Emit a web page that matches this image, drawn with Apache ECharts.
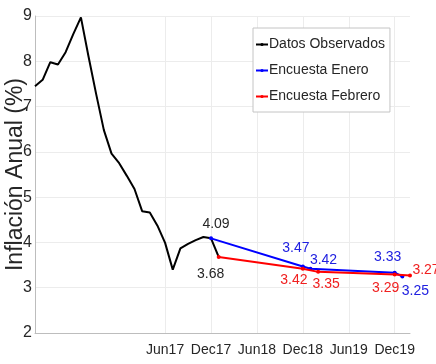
<!DOCTYPE html>
<html>
<head>
<meta charset="utf-8">
<script src="https://cdn.jsdelivr.net/npm/echarts@6/dist/echarts.min.js"></script>
<style>html,body{margin:0;padding:0;background:#fff}#c{width:436px;height:364px}</style>
</head>
<body>
<div id="c"></div>
<script>
// Month categories (Jan16 .. Feb20)
const months = [
  'Jan16','Feb16','Mar16','Apr16','May16','Jun16','Jul16','Aug16','Sep16','Oct16','Nov16','Dec16',
  'Jan17','Feb17','Mar17','Apr17','May17','Jun17','Jul17','Aug17','Sep17','Oct17','Nov17','Dec17',
  'Jan18','Feb18','Mar18','Apr18','May18','Jun18','Jul18','Aug18','Sep18','Oct18','Nov18','Dec18',
  'Jan19','Feb19','Mar19','Apr19','May19','Jun19','Jul19','Aug19','Sep19','Oct19','Nov19','Dec19',
  'Jan20','Feb20'
];
const tickLabels = ['Jun17','Dec17','Jun18','Dec18','Jun19','Dec19'];

// Datos Observados (Jan16 .. Jan18)
const observedX = months.slice(0, 25);
const observedY = [7.45,7.59,7.98,7.93,8.20,8.60,8.97,8.10,7.27,6.48,5.96,5.75,
                   5.47,5.18,4.69,4.66,4.37,3.99,3.40,3.87,3.97,4.05,4.12,4.09,3.68];

// Encuesta Enero
const eneroX = ['Dec17','Dec18','Jan19','Dec19','Jan20'];
const eneroY = [4.09,3.47,3.42,3.33,3.25];

// Encuesta Febrero
const febreroX = ['Jan18','Dec18','Feb19','Dec19','Feb20'];
const febreroY = [3.68,3.42,3.35,3.29,3.27];

// label offsets (styling only)
const eneroOffsets = [[5,-14],[-7,-18],[13,-9],[-7,-16],[13,15]];
const febreroOffsets = [[-8,17],[-9,11],[8,12],[-9,14],[16,-5]];

const FONT = "'Liberation Sans',Arial,sans-serif";
const TXT = '#262626';
const BLUE = '#0000ff', RED = '#ff0000';

function lbl(color, off){
  return {show:true, position:'inside', offset:off, color:color, fontFamily:FONT,
          fontSize:14, formatter:p=>p.value[1].toFixed(2), align:'center', verticalAlign:'middle'};
}

const obsData = observedX.map((m,i)=>[m, observedY[i]]);
const eneroData = eneroX.map((m,i)=>({value:[m, eneroY[i]], label:lbl(i===0?TXT:'#2020e0', eneroOffsets[i])}));
const febreroData = febreroX.map((m,i)=>({value:[m, febreroY[i]], label:lbl(i===0?TXT:'#f02020', febreroOffsets[i])}));

const showTick = (idx, val) => tickLabels.includes(val);

const chart = echarts.init(document.getElementById('c'), null, {renderer:'canvas'});
chart.setOption({
  animation:false,
  backgroundColor:'#fff',
  grid:{left:35, right:26, top:16, bottom:31, containLabel:false, outerBoundsMode:'none'},
  legend:{
    orient:'vertical', left:253, top:28,
    padding:[8,5,7,2], itemGap:9, itemWidth:12, itemHeight:4,
    backgroundColor:'#fff', borderColor:'#c4c4c4', borderWidth:1, borderRadius:0,
    textStyle:{fontFamily:FONT, fontSize:14, color:TXT, lineHeight:17, padding:[0,0,0,-4]},
    data:['Datos Observados','Encuesta Enero','Encuesta Febrero']
  },
  xAxis:{
    type:'category', data:months, boundaryGap:false,
    axisLine:{show:true, lineStyle:{color:'#bdbdbd', width:1}},
    axisTick:{show:false},
    axisLabel:{interval:showTick, hideOverlap:false, fontFamily:FONT, fontSize:14, color:TXT, margin:10},
    splitLine:{show:true, interval:showTick, lineStyle:{color:'#ececec', width:1}}
  },
  yAxis:{
    type:'value', min:2, max:9, interval:1,
    name:'Inflación Anual (%)', nameLocation:'middle', nameGap:8, nameMoveOverlap:false,
    nameTextStyle:{fontFamily:FONT, fontSize:23, color:TXT},
    axisLine:{show:true, lineStyle:{color:'#bdbdbd', width:1}},
    axisTick:{show:false},
    axisLabel:{fontFamily:FONT, fontSize:16, color:TXT, margin:3},
    splitLine:{show:true, lineStyle:{color:'#ececec', width:1}}
  },
  series:[
    {name:'Datos Observados', type:'line', data:obsData, symbol:'none', color:'#000',
     lineStyle:{color:'#000', width:2}, itemStyle:{color:'#000'}, z:3},
    {name:'Encuesta Enero', type:'line', data:eneroData, showAllSymbol:true,
     symbol:'circle', symbolSize:4, color:BLUE,
     lineStyle:{color:BLUE, width:2}, itemStyle:{color:BLUE}, z:4},
    {name:'Encuesta Febrero', type:'line', data:febreroData, showAllSymbol:true,
     symbol:'circle', symbolSize:4, color:RED,
     lineStyle:{color:RED, width:2}, itemStyle:{color:RED}, z:5}
  ]
});
</script>
</body>
</html>
